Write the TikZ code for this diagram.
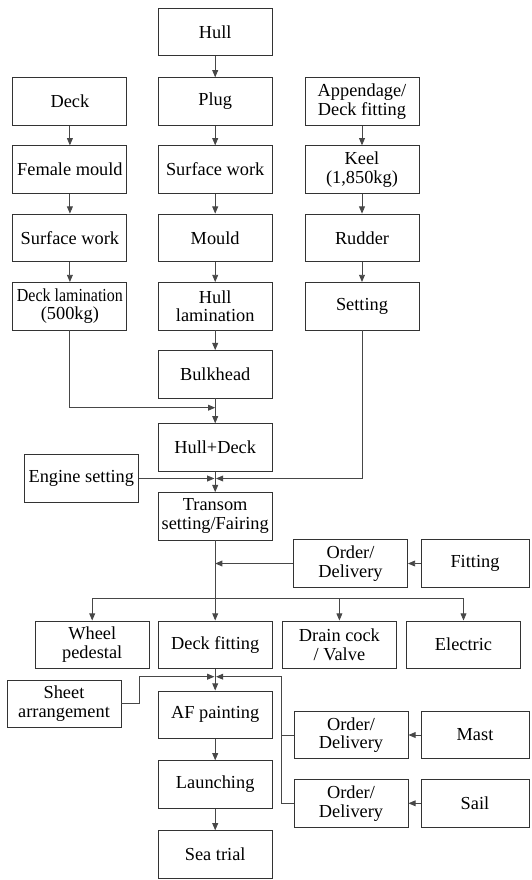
\documentclass[tikz,border=0pt]{standalone}
\usepackage{fontspec}
\setmainfont{Liberation Serif}
\usepackage{graphicx}
\usetikzlibrary{arrows.meta}
\definecolor{boxline}{gray}{0.2}
\definecolor{conline}{gray}{0.28}
\tikzset{
  stepbox/.style={draw=boxline, line width=0.65pt, rectangle, inner sep=0pt,
    minimum width=85.5pt, minimum height=35.6pt, align=center,
    font=\fontsize{13.76pt}{14pt}\selectfont},
  sidebox/.style={stepbox, minimum width=81pt},
  con/.style={draw=conline, line width=0.65pt},
  arr/.style={con, -{Triangle[length=5.4pt,width=4.4pt]}}
}
\begin{document}
\begin{tikzpicture}[x=0.75pt,y=-0.75pt]
\useasboundingbox (0,0) rectangle (531,880);
% main column
\node[stepbox] (hull) at (215.2,32) {Hull};
\node[stepbox] (plug) at (215.2,101.5) {Plug};
\node[stepbox] (sw2) at (215.2,169.5) {Surface work};
\node[stepbox] (mould) at (215.2,237.8) {Mould};
\node[stepbox] (hlam) at (215.2,306.2) {Hull\\lamination};
\node[stepbox] (bulk) at (215.2,374.3) {Bulkhead};
\node[stepbox] (hd) at (215.2,447.5) {Hull+Deck};
\node[stepbox] (tr) at (215.2,516.3) {Transom\\setting/Fairing};
% left column
\node[stepbox] (deck) at (69.9,101.5) {Deck};
\node[stepbox] (fem) at (69.9,169.5) {Female mould};
\node[stepbox] (sw1) at (69.9,237.8) {Surface work};
\node[stepbox] (dlam) at (69.9,306.2) {\scalebox{0.87}[1]{Deck lamination}\\(500kg)};
% right column
\node[stepbox] (app) at (362,101.5) {Appendage/\\Deck fitting};
\node[stepbox] (keel) at (362,169.5) {Keel\\(1,850kg)};
\node[stepbox] (rud) at (362,237.8) {Rudder};
\node[stepbox] (set) at (362,306.2) {Setting};
% engine
\node[stepbox] (eng) at (81.3,478.5) {Engine setting};
% order/fitting
\node[stepbox] (od1) at (350.5,563.5) {Order/\\Delivery};
\node[sidebox] (fit) at (475,563.5) {Fitting};
% row of fittings
\node[stepbox] (wp) at (92.2,644.7) {Wheel\\pedestal};
\node[stepbox] (df) at (215.2,644.7) {Deck fitting};
\node[stepbox] (dc) at (339.4,644.7) {Drain cock\\/ Valve};
\node[stepbox] (el) at (463.5,644.7) {Electric};
% lower part
\node[stepbox] (sheet) at (64,703.7) {Sheet\\arrangement};
\node[stepbox] (af) at (215.2,714.7) {AF painting};
\node[stepbox] (lau) at (215.2,784.5) {Launching};
\node[stepbox] (sea) at (215.2,854.5) {Sea trial};
\node[stepbox] (od2) at (351,735) {Order/\\Delivery};
\node[sidebox] (mast) at (475,735) {Mast};
\node[stepbox] (od3) at (351,803.3) {Order/\\Delivery};
\node[sidebox] (sail) at (475,803.3) {Sail};
% junction coordinates
\coordinate (j1) at (215.2,407.7);
\coordinate (j2) at (215.2,478.5);
\coordinate (j3) at (215.2,598.5);
\coordinate (j4) at (215.2,676.7);
\coordinate (sk) at (139.3,676.7);
\coordinate (rk) at (281,676.7);
% connectors
\draw[arr] (hull) -- (plug);
\draw[arr] (plug) -- (sw2);
\draw[arr] (sw2) -- (mould);
\draw[arr] (mould) -- (hlam);
\draw[arr] (hlam) -- (bulk);
\draw[arr] (bulk) -- (hd);
\draw[arr] (hd) -- (tr);
\draw[arr] (deck) -- (fem);
\draw[arr] (fem) -- (sw1);
\draw[arr] (sw1) -- (dlam);
\draw[arr] (app) -- (keel);
\draw[arr] (keel) -- (rud);
\draw[arr] (rud) -- (set);
\draw[arr] (dlam.south) |- (j1);
\draw[arr] (set.south) |- ([xshift=0.6pt]j2);
\draw[arr] (eng.east) -- ([xshift=-0.6pt]j2);
\draw[con] (tr.south) -- (j3);
\draw[arr] (od1.west) -- (od1.west -| tr.south);
\draw[arr] (fit.west) -- (od1.east);
\draw[arr] (j3) -| (wp.north);
\draw[arr] (j3) -- (df.north);
\draw[arr] (j3) -| (dc.north);
\draw[arr] (j3) -| (el.north);
\draw[arr] (df) -- (af);
\draw[arr] (sheet.east) -| (sk) -- ([xshift=-0.6pt]j4);
\draw[con] (od2.west) -- (od2.west -| rk);
\draw[arr] (od3.west) -| (rk) -- ([xshift=0.6pt]j4);
\draw[arr] (mast.west) -- (od2.east);
\draw[arr] (sail.west) -- (od3.east);
\draw[arr] (af) -- (lau);
\draw[arr] (lau) -- (sea);
\end{tikzpicture}
\end{document}
